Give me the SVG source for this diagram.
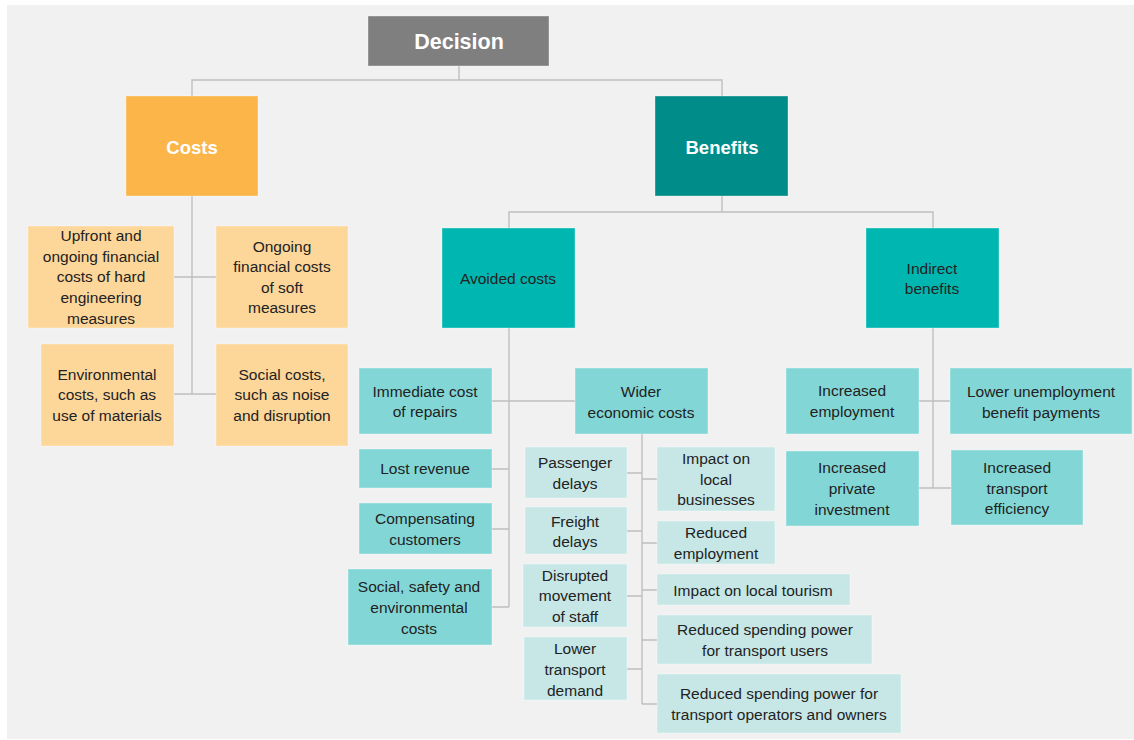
<svg xmlns="http://www.w3.org/2000/svg" width="1134" height="740" viewBox="0 0 1134 740">
<style>
  text { font-family: "Liberation Sans", Arial, sans-serif; font-size: 15.5px; fill: #222; text-anchor: middle; }
  .hd { font-weight: bold; fill: #fff; font-size: 18.5px; }
  .top { font-weight: bold; fill: #fff; font-size: 21.5px; }
  .box { stroke: #ffffff; stroke-opacity: 0.35; stroke-width: 1; }
  .gray { fill: #7F7F7F; }
  .orange { fill: #FBB548; }
  .dteal { fill: #008C89; }
  .teal { fill: #00B6B1; }
  .mid { fill: #82D7D6; }
  .light { fill: #C6E7E6; }
  .cost { fill: #FDD699; }
  .conn { fill: none; stroke: #BFBFBF; stroke-width: 1.4; }
</style>
<rect x="7" y="5" width="1127" height="734" fill="#F1F1F1"/>
<g id="connectors" class="conn">
  <path d="M459 66 V80 M192 96 V80 H722 V96"/>
  <path d="M192 196 V394 M174 277 H216 M174 394 H216"/>
  <path d="M722 196 V212 M509 228 V212 H933 V228"/>
  <path d="M509 328 V607 M492 401 H575 M492 469 H509 M492 529 H509 M492 607 H509"/>
  <path d="M642 434 V704 M627 473 H642 M627 531 H642 M627 596 H642 M627 669 H642 M642 479 H657 M642 543 H657 M642 590 H657 M642 640 H657 M642 704 H657"/>
  <path d="M933 328 V488 M919 401 H950 M919 488 H951"/>
</g>
<g id="decision"><rect class="box gray" x="368" y="16" width="181" height="50"/><text class="top" x="459" y="48.5">Decision</text></g>
<g id="costs"><rect class="box orange" x="126" y="96" width="132" height="100"/><text class="hd" x="192" y="153.5">Costs</text></g>
<g id="benefits"><rect class="box dteal" x="655" y="96" width="133" height="100"/><text class="hd" x="722" y="153.5">Benefits</text></g>
<g id="upfront"><rect class="box cost" x="28" y="226" width="146" height="102"/>
  <text x="101" y="241">Upfront and</text><text x="101" y="261.5">ongoing financial</text><text x="101" y="282">costs of hard</text><text x="101" y="303">engineering</text><text x="101" y="323.5">measures</text></g>
<g id="ongoing"><rect class="box cost" x="216" y="226" width="132" height="102"/>
  <text x="282" y="251.5">Ongoing</text><text x="282" y="272">financial costs</text><text x="282" y="292.5">of soft</text><text x="282" y="313">measures</text></g>
<g id="environmental"><rect class="box cost" x="41" y="344" width="133" height="102"/>
  <text x="107" y="379.5">Environmental</text><text x="107" y="400">costs, such as</text><text x="107" y="420.5">use of materials</text></g>
<g id="social-costs"><rect class="box cost" x="216" y="344" width="132" height="102"/>
  <text x="282" y="379.5">Social costs,</text><text x="282" y="400">such as noise</text><text x="282" y="420.5">and disruption</text></g>
<g id="avoided"><rect class="box teal" x="442" y="228" width="133" height="100"/><text x="508" y="283.5">Avoided costs</text></g>
<g id="indirect"><rect class="box teal" x="866" y="228" width="133" height="100"/>
  <text x="932" y="273.5">Indirect</text><text x="932" y="294">benefits</text></g>
<g id="immediate"><rect class="box mid" x="359" y="368" width="133" height="66"/>
  <text x="425" y="396.5">Immediate cost</text><text x="425" y="417">of repairs</text></g>
<g id="wider"><rect class="box mid" x="575" y="368" width="133" height="66"/>
  <text x="641" y="397">Wider</text><text x="641" y="417.5">economic costs</text></g>
<g id="lost-revenue"><rect class="box mid" x="359" y="449" width="133" height="39"/><text x="425" y="474">Lost revenue</text></g>
<g id="compensating"><rect class="box mid" x="359" y="503" width="133" height="51"/>
  <text x="425" y="524">Compensating</text><text x="425" y="544.5">customers</text></g>
<g id="social-safety"><rect class="box mid" x="348" y="569" width="144" height="76"/>
  <text x="419" y="592">Social, safety and</text><text x="419" y="612.5">environmental</text><text x="419" y="633.5">costs</text></g>
<g id="passenger"><rect class="box light" x="525" y="447" width="102" height="51"/>
  <text x="575" y="468">Passenger</text><text x="575" y="488.5">delays</text></g>
<g id="freight"><rect class="box light" x="525" y="507" width="102" height="47"/>
  <text x="575" y="526.5">Freight</text><text x="575" y="547">delays</text></g>
<g id="disrupted"><rect class="box light" x="523" y="564" width="104" height="63"/>
  <text x="575" y="580.5">Disrupted</text><text x="575" y="601">movement</text><text x="575" y="621.5">of staff</text></g>
<g id="lower-demand"><rect class="box light" x="524" y="637" width="103" height="63"/>
  <text x="575" y="654">Lower</text><text x="575" y="674.5">transport</text><text x="575" y="695.5">demand</text></g>
<g id="local-businesses"><rect class="box light" x="657" y="447" width="118" height="64"/>
  <text x="716" y="463.5">Impact on</text><text x="716" y="484.5">local</text><text x="716" y="505">businesses</text></g>
<g id="reduced-employment"><rect class="box light" x="657" y="521" width="118" height="43"/>
  <text x="716" y="538">Reduced</text><text x="716" y="558.5">employment</text></g>
<g id="tourism"><rect class="box light" x="657" y="574" width="193" height="31"/><text x="753" y="595.5">Impact on local tourism</text></g>
<g id="spending-users"><rect class="box light" x="657" y="615" width="215" height="49"/>
  <text x="765" y="634.5">Reduced spending power</text><text x="765" y="655.5">for transport users</text></g>
<g id="spending-operators"><rect class="box light" x="657" y="674" width="244" height="59"/>
  <text x="779" y="698.5">Reduced spending power for</text><text x="779" y="719.5">transport operators and owners</text></g>
<g id="increased-employment"><rect class="box mid" x="786" y="368" width="133" height="66"/>
  <text x="852" y="396">Increased</text><text x="852" y="416.5">employment</text></g>
<g id="lower-unemployment"><rect class="box mid" x="950" y="368" width="182" height="66"/>
  <text x="1041" y="396.5">Lower unemployment</text><text x="1041" y="417.5">benefit payments</text></g>
<g id="private-investment"><rect class="box mid" x="786" y="451" width="133" height="75"/>
  <text x="852" y="473">Increased</text><text x="852" y="494">private</text><text x="852" y="514.5">investment</text></g>
<g id="transport-efficiency"><rect class="box mid" x="951" y="450" width="132" height="75"/>
  <text x="1017" y="472.5">Increased</text><text x="1017" y="493.5">transport</text><text x="1017" y="514">efficiency</text></g>
</svg>
